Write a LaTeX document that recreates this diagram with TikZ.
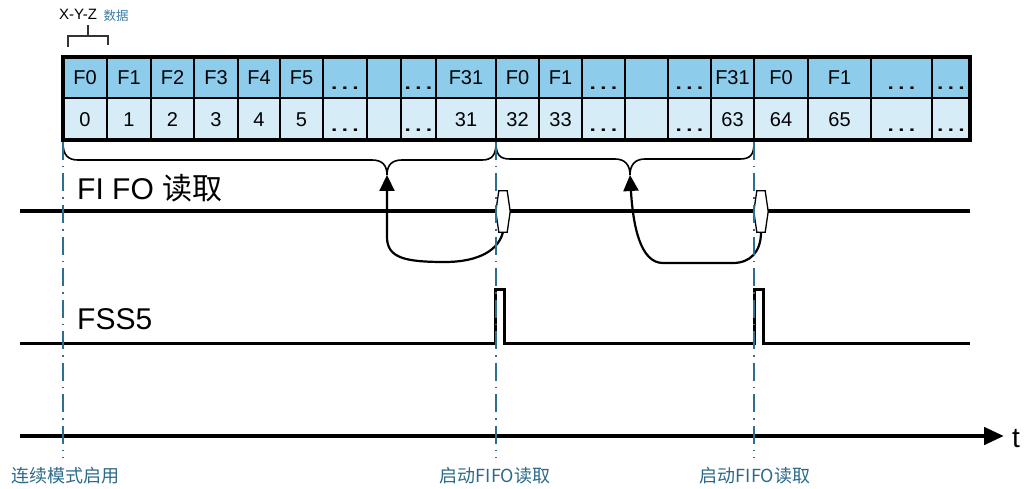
\documentclass[tikz,border=0pt]{standalone}
\usepackage{fontspec}
\setmainfont{Liberation Sans}
\newfontfamily\cjk{Noto Sans CJK SC}
\usetikzlibrary{arrows.meta}
\definecolor{hdr}{HTML}{8DCDEB}
\definecolor{lowc}{HTML}{D6EDF8}
\definecolor{guide}{HTML}{2E6E8E}
\definecolor{lbl}{HTML}{2B6A8A}
\definecolor{dblue}{HTML}{3A7CA5}
\begin{document}
\begin{tikzpicture}[x=1pt,y=-1pt,
  cell/.style={font=\fontsize{20}{24}\selectfont, inner sep=0},
  dotcell/.style={font=\fontsize{24}{26}\selectfont, inner sep=0, anchor=base},
  guideline/.style={guide, line width=1.5, dash pattern=on 18pt off 6pt on 1.5pt off 6pt},
  sigline/.style={line width=3.4, line join=miter},
  bracepath/.style={line width=1.6},
  loopar/.style={line width=2.2, -{Triangle[length=16pt,width=15pt]}},
  lozenge/.style={draw, fill=white, line width=1.3},
  lozbox/.style={draw=none, inner sep=0, minimum width=8pt, minimum height=41pt},
  guidelabel/.style={lbl, font=\cjk\fontsize{18}{20}\selectfont, inner sep=0},
  big/.style={font=\fontsize{30}{34}\selectfont, inner sep=0, anchor=base west}]
\useasboundingbox (0,0) rectangle (1030,489);

% table
\fill[hdr] (63,57) rectangle (970,98);
\fill[lowc] (63,98) rectangle (970,140);
\foreach \x in {107,151,194,238,280,323,367,401,436,496,539,582,625,668,711,754,808,871,932}
  \draw[line width=2] (\x,57) -- (\x,140);
\draw[line width=2] (63,98) -- (970,98);
\draw[line width=4.5] (63,57) rectangle (970,140);

\foreach \a/\b/\h/\l [count=\i] in {63/107/F0/0, 107/151/F1/1, 151/194/F2/2, 194/238/F3/3, 238/280/F4/4, 280/323/F5/5, 436/496/F31/31, 496/539/F0/32, 539/582/F1/33, 711/754/F31/63, 754/808/F0/64, 808/871/F1/65}{
  \node[cell] (h\i) at ({(\a+\b)/2},77.5) {\h};
  \node[cell] (l\i) at ({(\a+\b)/2},120) {\l};
}
\foreach \a/\b [count=\i] in {323/367, 401/436, 582/625, 668/711, 871/932, 932/970}{
  \node[dotcell] (hd\i) at ({(\a+\b)/2},90) {\scalebox{1.4}[1]{…}};
  \node[dotcell] (ld\i) at ({(\a+\b)/2},132) {\scalebox{1.4}[1]{…}};
}

% top label
\node[anchor=base west, font=\fontsize{15}{16}\selectfont, inner sep=0] (xyz) at (59,20) {X-Y-Z};
\node[anchor=base west, text=dblue, font=\cjk\fontsize{12.5}{13}\selectfont, inner sep=0] (sj) at (103.5,20.5) {数据};
\draw[line width=1.5, black!80] (68,47) -- (68,36) -- (108,36) -- (108,45);
\draw[line width=1.5, black!80] (88,36) -- (88,25);

% braces
\coordinate (tip1) at (387,175);
\coordinate (tip2) at (630,175);
\draw[bracepath] (63,143) .. controls (63,155) and (68,160) .. (78,160) -- (372,160)
  .. controls (382,160) and (387,165) .. (tip1)
  .. controls (387,165) and (392,160) .. (402,160) -- (482,160)
  .. controls (492,160) and (496,155) .. (496,143);
\draw[bracepath] (496,143) .. controls (496,155) and (500,159) .. (510,159) -- (615,159)
  .. controls (625,159) and (630,165) .. (tip2)
  .. controls (630,165) and (635,159) .. (645,159) -- (740,159)
  .. controls (750,159) and (754,155) .. (754,143);

% labels
\node[big] (fifo) at (77,200) {FI FO {\cjk 读取}};
\node[big] (fss) at (77,329) {FSS5};

% FIFO read line
\coordinate (fs) at (20,211);
\coordinate (fe) at (970,211);
\draw[sigline] (fs) -- (fe);
\node[lozbox] (lz1) at (503,211.5) {};
\node[lozbox] (lz2) at (761,211.5) {};
\foreach \n in {lz1,lz2}
  \draw[lozenge] (\n.north west) -- (\n.north east) -- ([xshift=3pt]\n.east) -- (\n.south east) -- (\n.south west) -- ([xshift=-3pt]\n.west) -- cycle;

\draw[loopar] (lz1.south) .. controls (497,255) and (470,262) .. (445,262)
  .. controls (405,262) and (387,258) .. (387,237) -- (tip1);
\draw[loopar] (lz2.south) .. controls (761,252) and (750,263) .. (733,263) -- (663,263)
  .. controls (640,263) and (633,225) .. (tip2);

% FSS5 line
\coordinate (ss) at (20,343);
\coordinate (se) at (970,343);
\draw[sigline, line width=3] (ss) -- (495,343) -- (495,289) -- (504,289) -- (504,343) -- (754,343) -- (754,289) -- (763,289) -- (763,343) -- (se);

% time axis
\coordinate (ts) at (20,436);
\coordinate (te) at (1004,436);
\draw[line width=4.5, -{Triangle[length=20pt,width=17pt]}] (ts) -- (te);
\node[anchor=base west, font=\fontsize{28}{30}\selectfont, inner sep=0] (t) at (1012,447) {t};

% guides
\foreach \x/\n in {63/g1,496/g2,754/g3}{
  \coordinate (\n a) at (\x,142);
  \coordinate (\n b) at (\x,458);
  \draw[guideline] (\n a) -- (\n b);
}
\node[guidelabel] (gl1) at (65,476) {连续模式启用};
\node[guidelabel] (gl2) at (495,476) {启动FIFO读取};
\node[guidelabel] (gl3) at (755,476) {启动FIFO读取};
\end{tikzpicture}
\end{document}
